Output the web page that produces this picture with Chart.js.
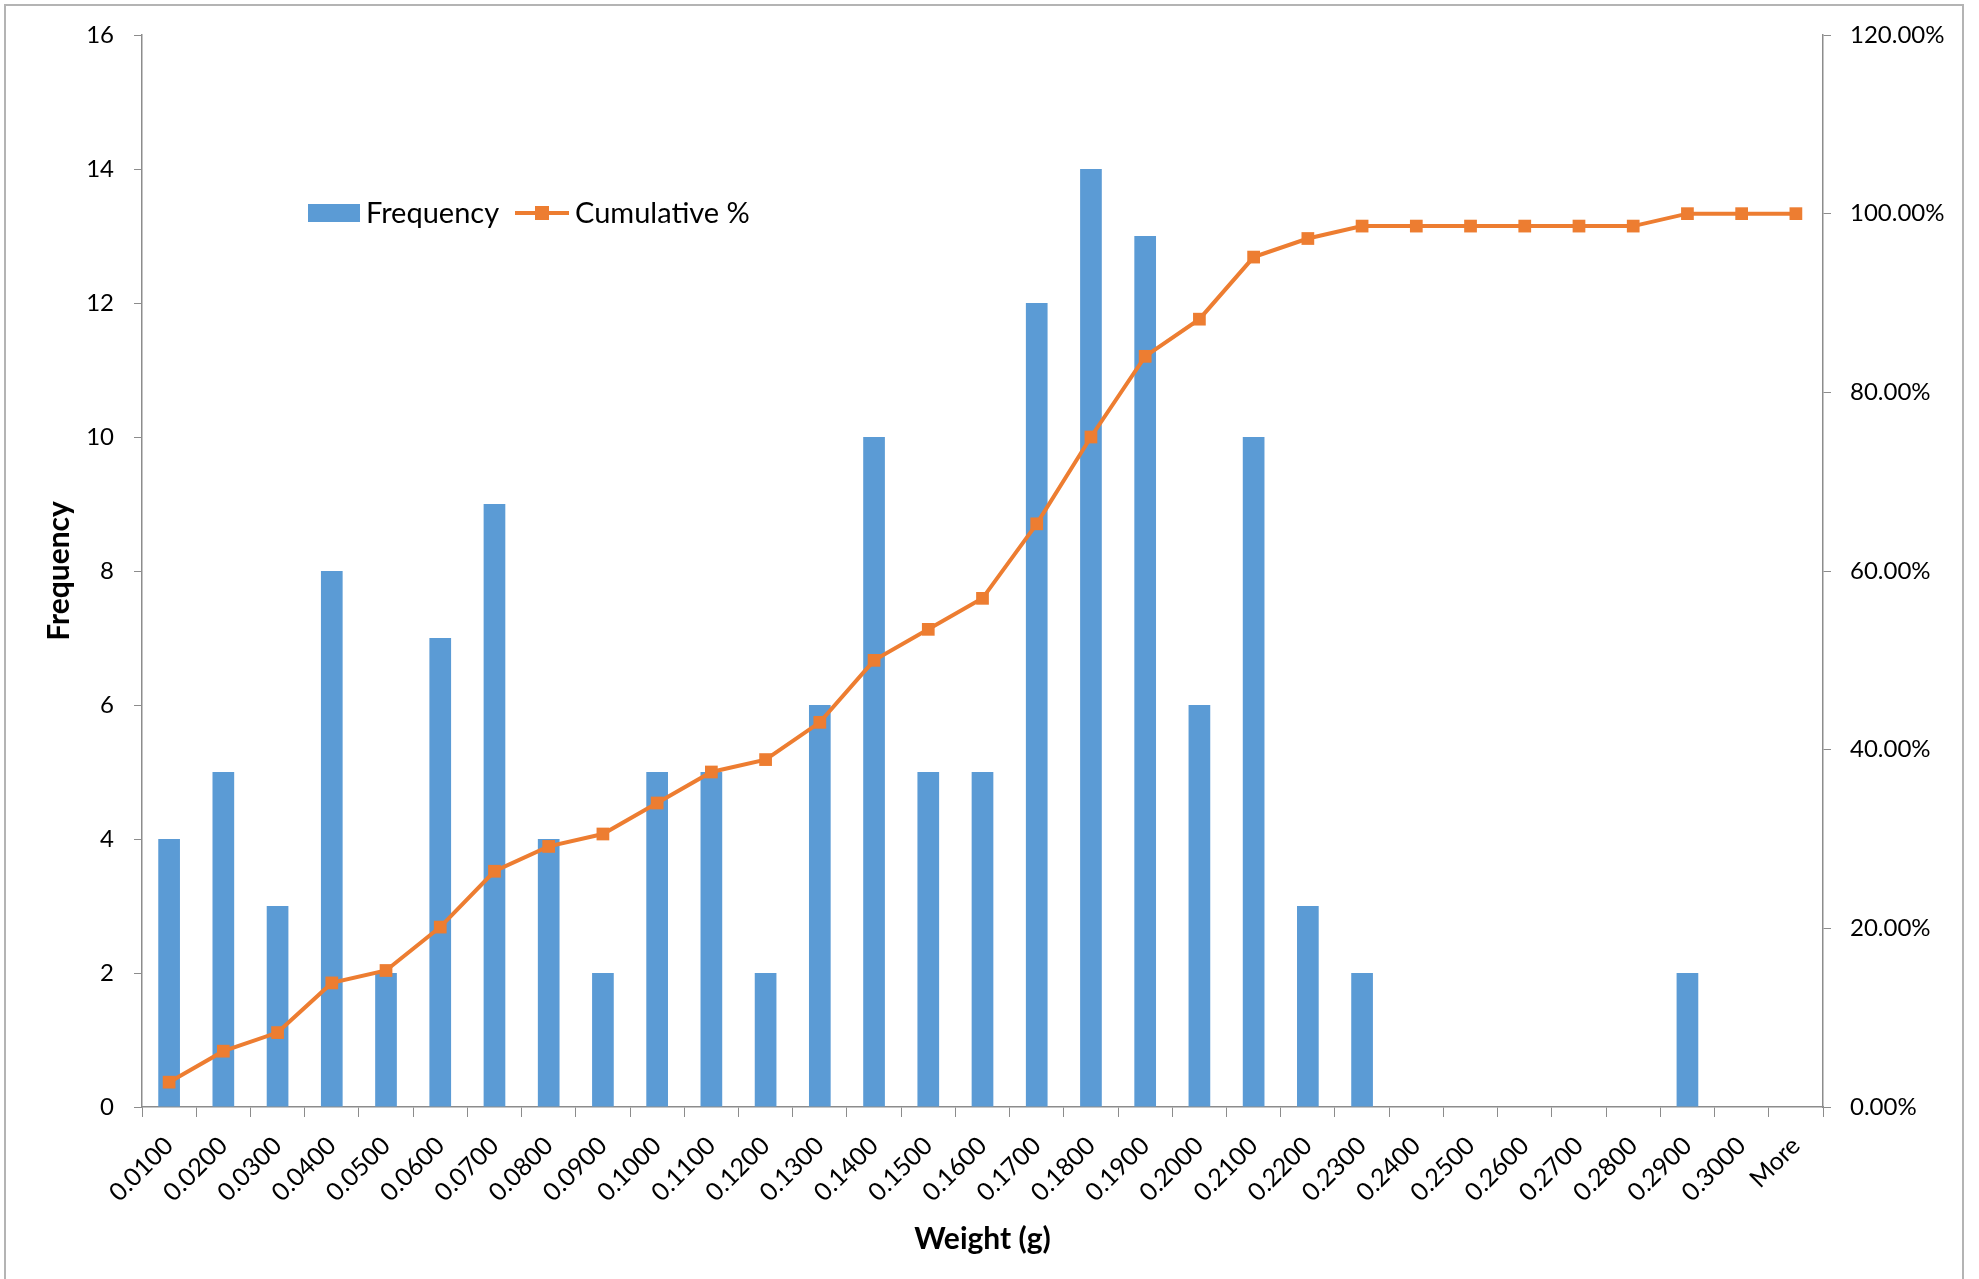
<!DOCTYPE html>
<html>
<head>
<meta charset="utf-8">
<script src="https://cdn.jsdelivr.net/npm/chart.js@4/dist/chart.umd.min.js"></script>
<style>
  html, body { margin: 0; padding: 0; background: #fff; }
  canvas { display: block; }
</style>
</head>
<body>
<canvas id="c" width="1979" height="1279"></canvas>
<script>
// ---- data ----
const categories = ['0.0100','0.0200','0.0300','0.0400','0.0500','0.0600','0.0700','0.0800','0.0900','0.1000',
  '0.1100','0.1200','0.1300','0.1400','0.1500','0.1600','0.1700','0.1800','0.1900','0.2000',
  '0.2100','0.2200','0.2300','0.2400','0.2500','0.2600','0.2700','0.2800','0.2900','0.3000','More'];
const frequency = [4,5,3,8,2,7,9,4,2,5, 5,2,6,10,5,5,12,14,13,6, 10,3,2,0,0,0,0,0,2,0,0];
const cumulativePct = [2.78,6.25,8.33,13.89,15.28,20.14,26.39,29.17,30.56,34.03,
  37.50,38.89,43.06,50.00,53.47,56.94,65.28,75.00,84.03,88.19,
  95.14,97.22,98.61,98.61,98.61,98.61,98.61,98.61,100.00,100.00,100.00];
const seriesNames = ['Frequency', 'Cumulative %'];
const axisTitles = { x: 'Weight (g)', y: 'Frequency' };

const BLUE = '#5B9BD5', ORANGE = '#ED7D31', AXIS = '#8C8C8C';
const FONT = 'Lato, "Liberation Sans", sans-serif';

const legendPlugin = {
  id: 'customLegend',
  afterDraw(chart) {
    const ctx = chart.ctx;
    ctx.save();
    // outer border
    ctx.strokeStyle = '#B4B4B4';
    ctx.lineWidth = 2;
    ctx.strokeRect(5, 5, 1958, 1300);
    // legend
    const cy = 213;
    ctx.fillStyle = BLUE;
    ctx.fillRect(308, cy - 9, 52, 18);
    ctx.font = '29px ' + FONT;
    ctx.fillStyle = '#000';
    ctx.textBaseline = 'middle';
    ctx.textAlign = 'left';
    ctx.fillText(seriesNames[0], 366, cy + 1);
    ctx.strokeStyle = ORANGE;
    ctx.lineWidth = 4;
    ctx.beginPath(); ctx.moveTo(515, cy); ctx.lineTo(569, cy); ctx.stroke();
    ctx.fillStyle = ORANGE;
    ctx.fillRect(542 - 7, cy - 7, 14, 14);
    ctx.fillStyle = '#000';
    ctx.fillText(seriesNames[1], 575, cy + 1);
    ctx.restore();
  }
};

new Chart(document.getElementById('c'), {
  data: {
    labels: categories,
    datasets: [
      {
        type: 'line', label: seriesNames[1], data: cumulativePct, yAxisID: 'y1', order: 0,
        borderColor: ORANGE, borderWidth: 4, tension: 0,
        pointStyle: 'rect', pointRadius: 9, pointBackgroundColor: ORANGE, pointBorderWidth: 0,
        pointHoverRadius: 9
      },
      {
        type: 'bar', label: seriesNames[0], data: frequency, yAxisID: 'y', order: 1,
        backgroundColor: BLUE, barPercentage: 0.4, categoryPercentage: 1.0
      }
    ]
  },
  plugins: [legendPlugin],
  options: {
    responsive: false,
    devicePixelRatio: 1,
    animation: false,
    layout: { padding: { top: 35, left: 0, right: 0, bottom: 0 } },
    plugins: { legend: { display: false }, tooltip: { enabled: false } },
    scales: {
      x: {
        position: 'bottom',
        grid: { display: true, drawOnChartArea: false, drawTicks: true, tickLength: 10, color: AXIS, offset: true },
        border: { display: true, color: AXIS, width: 1.5 },
        ticks: { color: '#000', font: { family: FONT, size: 25 }, minRotation: 45, maxRotation: 45, padding: 14, autoSkip: false },
        title: { display: true, text: axisTitles.x, color: '#000', font: { family: FONT, size: 30, weight: 'bold' }, padding: { top: 0, bottom: 22 } },
        afterFit(scale) { scale.height = 172; }
      },
      y: {
        position: 'left', min: 0, max: 16,
        grid: { display: true, drawOnChartArea: false, drawTicks: true, tickLength: 8, color: AXIS },
        border: { display: true, color: AXIS, width: 1.5 },
        ticks: { stepSize: 2, color: '#000', font: { family: FONT, size: 24 }, padding: 20 },
        title: { display: true, text: axisTitles.y, color: '#000', font: { family: FONT, size: 30, weight: 'bold' }, padding: { top: 41, bottom: 0 } },
        afterFit(scale) { scale.width = 142; }
      },
      y1: {
        position: 'right', min: 0, max: 120,
        grid: { display: true, drawOnChartArea: false, drawTicks: true, tickLength: 8, color: AXIS },
        border: { display: true, color: AXIS, width: 1.5 },
        ticks: { stepSize: 20, color: '#000', font: { family: FONT, size: 24 }, padding: 19,
          callback: v => v.toFixed(2) + '%' },
        afterFit(scale) { scale.width = 156; }
      }
    }
  }
});
</script>
</body>
</html>
